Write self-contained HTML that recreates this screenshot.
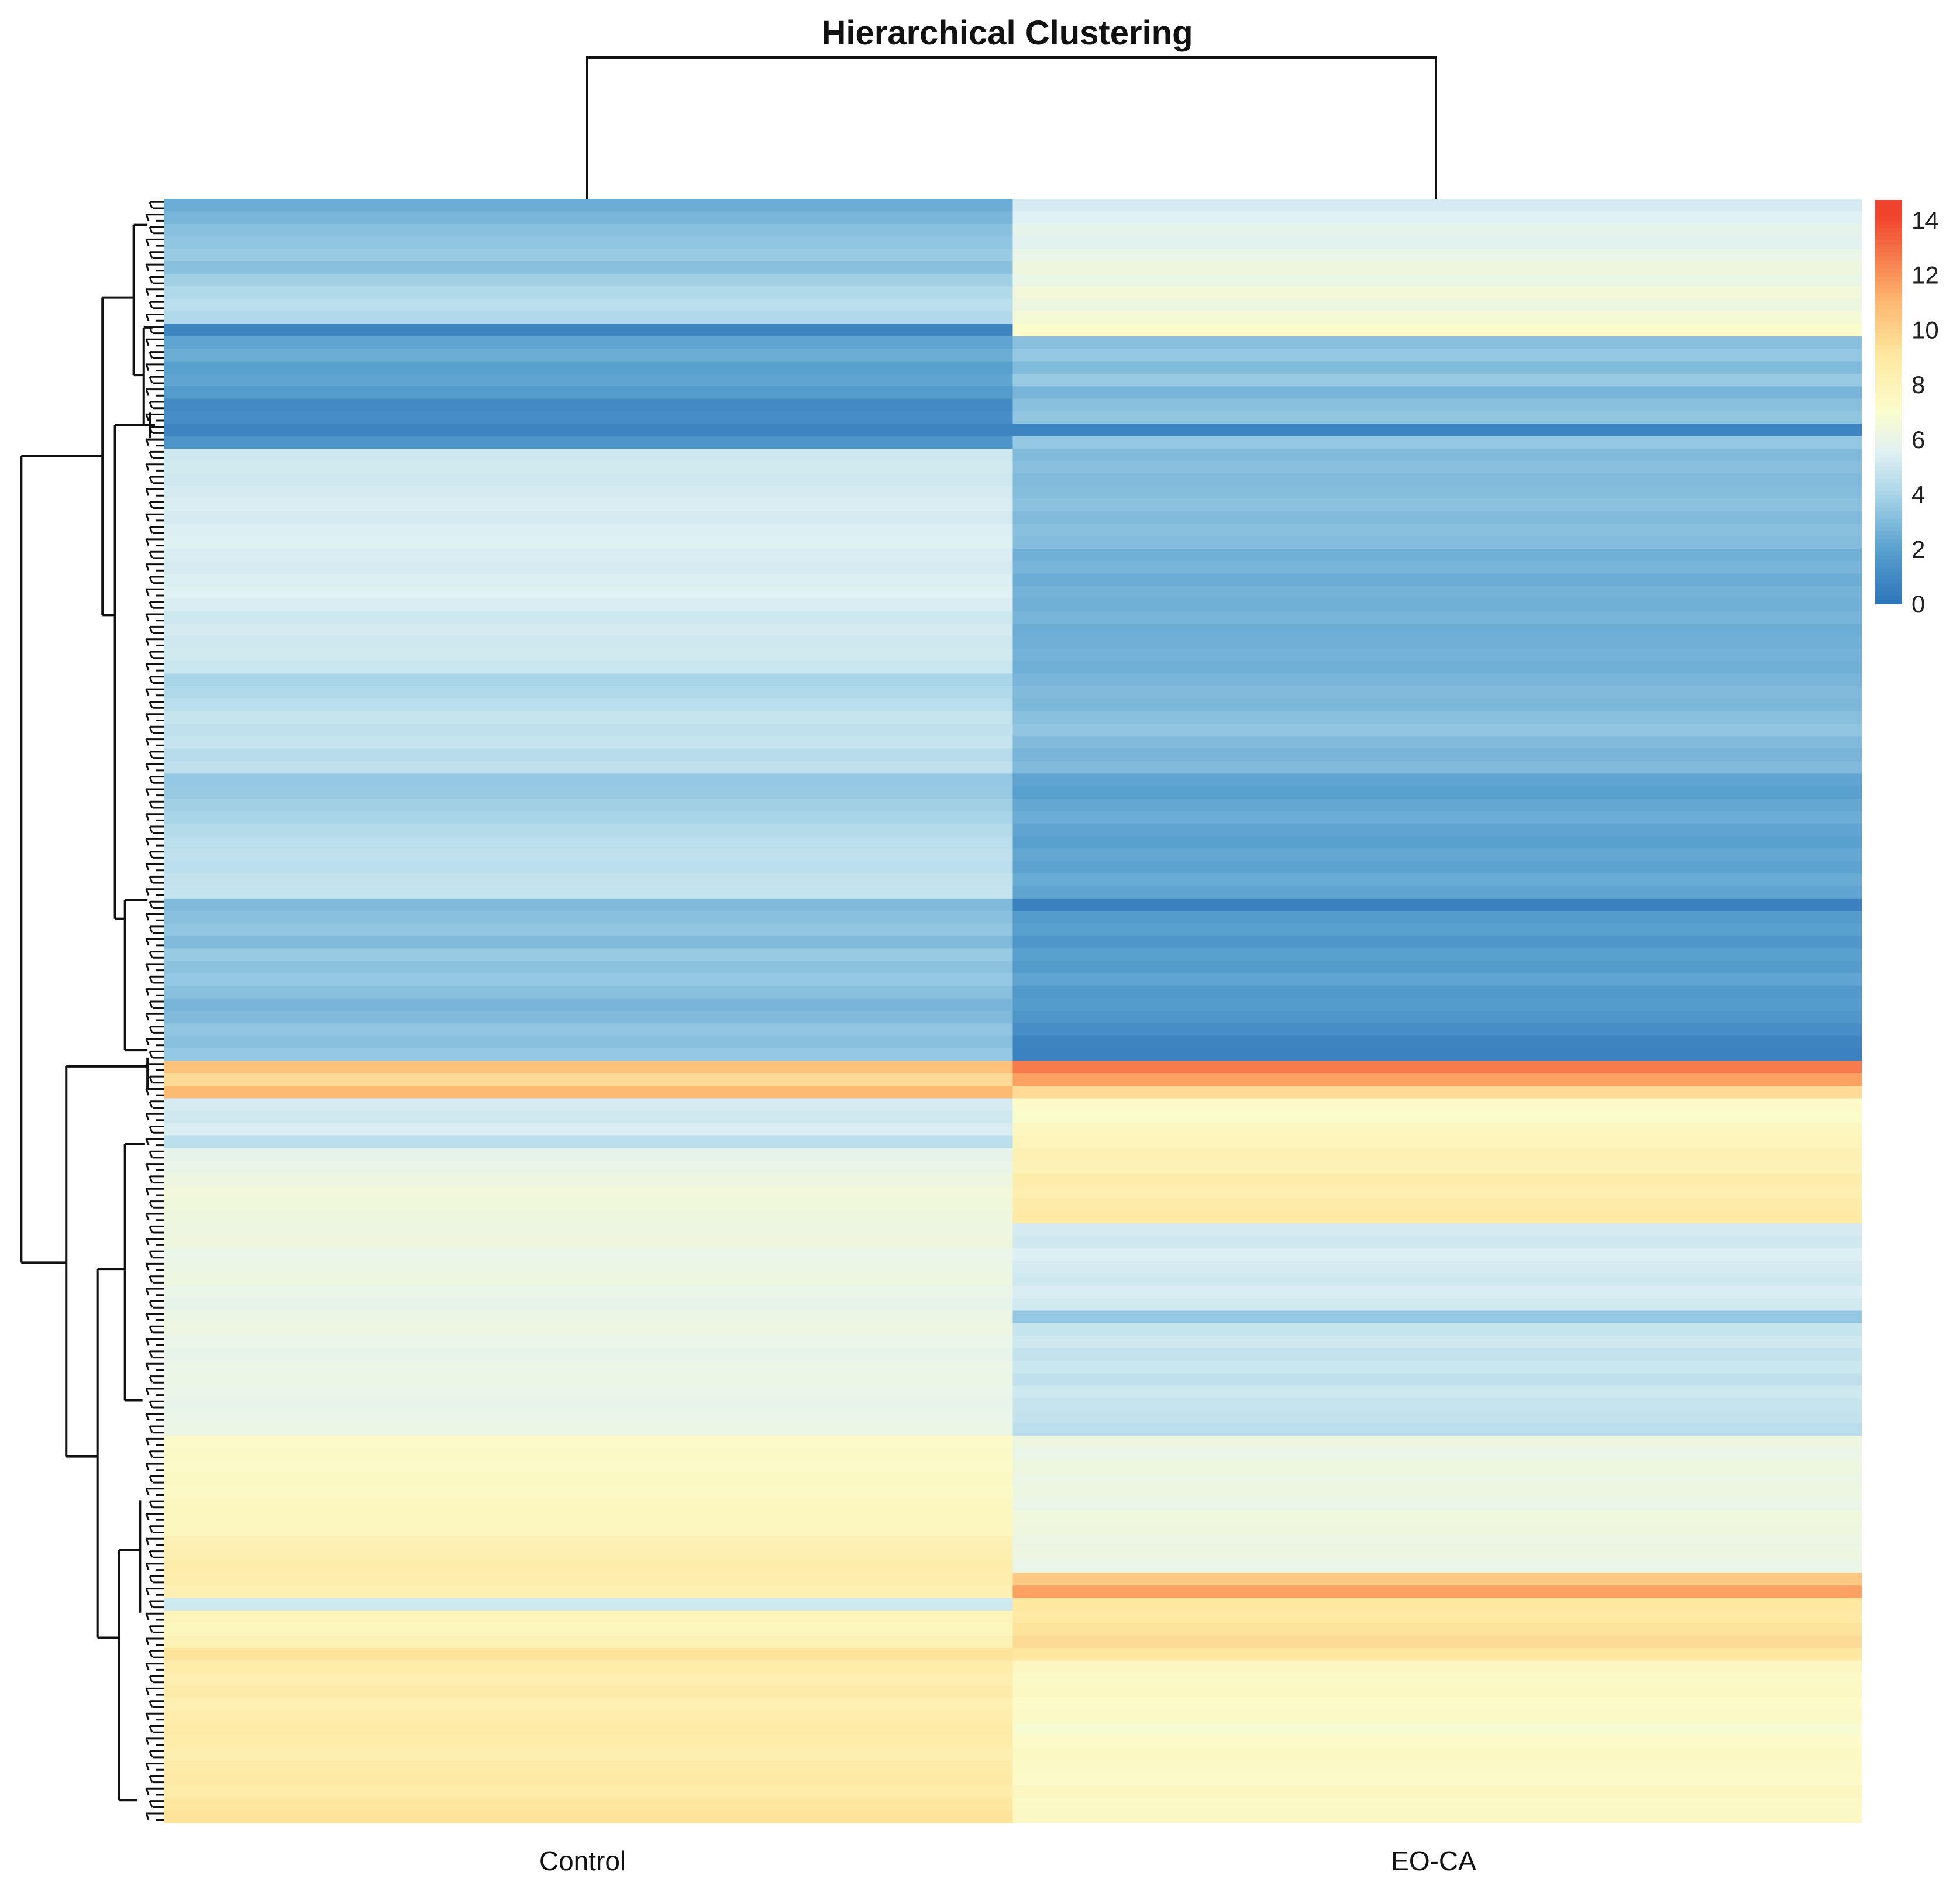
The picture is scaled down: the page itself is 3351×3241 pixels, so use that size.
<!DOCTYPE html>
<html><head><meta charset="utf-8"><style>
html,body{margin:0;padding:0;background:#fff;}
svg{display:block;font-family:"Liberation Sans",sans-serif;}
</style></head><body>
<svg id="chart" width="3351" height="3241" viewBox="0 0 3351 3241" xmlns="http://www.w3.org/2000/svg">
<rect width="3351" height="3241" fill="#fff"/>
<text x="1722" y="76" text-anchor="middle" font-size="58" font-weight="bold" fill="#111">Hierarchical Clustering</text>
<g id="cells"></g>
<g id="dendro" stroke="#111" stroke-width="1.9" fill="none" transform="scale(2.137)"></g>
<g id="leaves" stroke="#111" stroke-width="3" fill="none"></g>
<g stroke="#111" stroke-width="4" fill="none">
<path d="M1004,340 V98 H2455 V340"/>
</g>
<g id="cbar"></g>
<text x="996" y="3197" text-anchor="middle" font-size="46" fill="#111">Control</text>
<text x="2451" y="3197" text-anchor="middle" font-size="46" fill="#111">EO-CA</text>
</svg>
<script>
const columns = ["Control","EO-CA"];
const controlValues = [2.5,2.8,3.2,3.4,3.6,3.2,3.8,4.2,4.5,4.2,0.8,2.2,2.5,2.0,2.2,1.8,1.0,1.2,0.8,1.5,
5.0,5.1,5.0,5.2,5.3,5.2,5.4,5.5,5.3,5.2,5.4,5.5,5.3,5.0,5.2,5.0,5.1,4.9,4.0,4.2,
4.5,4.8,4.6,4.8,4.4,4.6,3.5,3.6,3.8,4.0,4.3,4.5,4.6,4.5,4.7,4.8,3.0,3.2,3.4,3.0,
3.6,3.3,3.5,3.2,2.8,3.0,3.4,3.2,3.5,10.5,9.5,10.8,5.2,5.0,5.3,4.5,5.8,6.0,6.2,6.5,
6.4,6.3,6.2,6.3,6.0,6.1,6.2,6.0,5.9,6.1,6.2,6.0,5.9,6.0,6.1,6.0,5.9,6.0,6.1,7.2,
7.3,7.2,7.4,7.3,7.5,7.6,7.6,8.2,8.3,8.5,8.4,8.2,5.0,7.8,7.6,8.0,9.2,8.5,8.3,8.6,
8.2,8.4,8.7,8.5,8.3,8.6,8.8,8.5,9.0,9.2];
const eocaValues = [5.2,5.5,5.8,5.6,6.0,6.3,6.0,6.5,6.2,6.6,7.0,3.2,3.5,3.0,3.6,2.8,3.2,3.4,0.8,3.5,
3.0,3.2,3.0,3.1,3.3,3.0,3.2,3.1,2.6,2.8,2.5,2.7,2.6,2.8,2.5,2.6,2.7,2.6,2.8,3.0,
2.9,3.2,3.4,3.0,2.8,3.0,2.2,2.0,2.3,2.5,2.2,2.0,2.3,2.1,2.4,2.2,0.6,1.8,2.0,1.6,
2.0,1.8,2.2,1.7,1.8,1.6,1.2,0.8,0.7,12.5,11.5,9.5,7.2,7.0,7.5,7.8,8.2,8.0,8.5,8.3,
8.6,8.8,5.2,5.0,5.4,5.2,5.0,5.3,5.1,3.5,4.8,5.0,4.7,4.9,4.6,5.0,4.8,4.7,4.5,6.2,
6.0,6.3,6.1,6.2,6.0,6.4,6.3,6.1,6.2,6.0,10.2,11.5,9.0,8.8,9.2,9.5,9.0,7.5,7.3,7.4,
7.2,7.3,6.8,7.2,7.4,7.3,7.2,7.5,7.3,7.4];
const legendTicks = [0,2,4,6,8,10,12,14];

const NS="http://www.w3.org/2000/svg";
const X0=280,X1=3183,Y0=340,Y1=3116;
const stops=[[0,[43,115,184]],[2,[88,160,206]],[4,[169,213,232]],[5.5,[224,241,243]],[7,[251,252,204]],[9,[254,232,160]],[11,[253,181,110]],[14,[240,67,44]]];
function color(v){
  if(v<=stops[0][0])return `rgb(${stops[0][1]})`;
  for(let i=1;i<stops.length;i++){if(v<=stops[i][0]){const a=stops[i-1],b=stops[i],t=(v-a[0])/(b[0]-a[0]);
    return 'rgb('+a[1].map((c,k)=>Math.round(c+(b[1][k]-c)*t)).join(',')+')';}}
  return `rgb(${stops[stops.length-1][1]})`;
}
const n=controlValues.length, rh=(Y1-Y0)/n, cw=(X1-X0)/columns.length;
const yRow=i=>Y0+i*rh;
const cells=document.getElementById('cells');
[controlValues,eocaValues].forEach((arr,c)=>{
  arr.forEach((v,i)=>{
    const r=document.createElementNS(NS,'rect');
    
    
    r.setAttribute('x',X0+c*cw);r.setAttribute('y',yRow(i));
    r.setAttribute('width',cw+0.5);r.setAttribute('height',rh+0.6);
    r.setAttribute('fill',color(v));cells.appendChild(r);
  });
});
// dendrogram (drawn in reduced coordinates, scaled by group transform)
const d=document.getElementById('dendro');
function p(s,g){const e=document.createElementNS(NS,'path');e.setAttribute('d',s);
  
  (g||d).appendChild(e);}
p("M17,365 V1010");
p("M17,365 H82 M82,238 V492");
p("M82,238 H107 M107,180 V300 M107,180 H118 M107,300 H115 M115,262 V340 M115,262 H122 M115,340 H124");
p("M82,492 H92 M92,340 V735 M92,340 H120 M120,330 V350 M92,735 H100 M100,720 V840 M100,720 H118 M100,840 H118");
p("M17,1010 H53 M53,853 V1165 M53,853 H118 M118,846 V870");
p("M53,1165 H78 M78,1015 V1310 M78,1015 H100 M100,915 V1120 M100,915 H116 M100,1120 H114");
p("M78,1310 H95 M95,1240 V1440 M95,1240 H112 M95,1440 H110 M112,1200 V1290");
// leaf fan
const lv=document.getElementById('leaves');
let lp="";
const nl=n*2, lh=(Y1-Y0)/nl;
for(let i=0;i<nl;i++){const y=Y0+i*lh+lh/2;const xs=[256,262,250,266][i%4];
  lp+=`M${xs},${y.toFixed(1)} H280 `;
  if(i%2===0) lp+=`M${xs},${y.toFixed(1)} L${xs+4},${(y+lh).toFixed(1)} `;}
p(lp,lv);
// colorbar
const cb=document.getElementById('cbar');
const CBX=3206,CBW=46,CBT=342,CBB=1032;
for(let k=0;k<100;k++){const v=14.5-k*14.5/100;
  const r=document.createElementNS(NS,'rect');
  
  
  r.setAttribute('x',CBX);r.setAttribute('y',CBT+k*(CBB-CBT)/100);
  r.setAttribute('width',CBW);r.setAttribute('height',(CBB-CBT)/100+0.8);
  r.setAttribute('fill',color(v));cb.appendChild(r);}
legendTicks.forEach(t=>{
  const y=1032-(t/14)*(1032-376);
  const tx=document.createElementNS(NS,'text');
  
  
  tx.setAttribute('x',3268);tx.setAttribute('y',y+15);
  tx.setAttribute('font-size','42');tx.setAttribute('fill','#222');
  tx.textContent=t;cb.appendChild(tx);
});
</script>
</body></html>
